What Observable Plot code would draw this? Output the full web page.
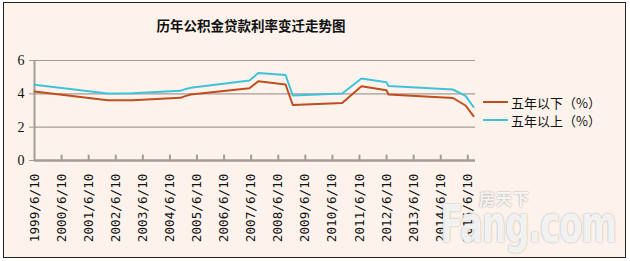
<!DOCTYPE html>
<html>
<head>
<meta charset="utf-8">
<script src="https://cdn.jsdelivr.net/npm/d3@7"></script>
<script src="https://cdn.jsdelivr.net/npm/@observablehq/plot@0.6"></script>
<style>
  html, body { margin: 0; padding: 0; background: #ffffff; }
  #wrap { position: relative; width: 630px; height: 261px; overflow: hidden; background: #ffffff; }
  #frame { position: absolute; left: 3px; top: 2px; width: 621px; height: 254px; border: 1px solid #222; background: #fdf3ec; }
  #chart { position: absolute; left: 0; top: 0; }
  .title { position: absolute; left: 0; width: 502px; top: 15px; text-align: center; font-family: "Noto Sans CJK SC", sans-serif; font-weight: bold; font-size: 13.5px; color: #111; }
  .leg { position: absolute; font-family: "Noto Sans CJK SC", sans-serif; font-size: 13px; color: #111; line-height: 15px; white-space: nowrap; }
  .sw { position: absolute; height: 2px; width: 25px; }
  .wm1 { position: absolute; left: 479px; top: 190px; font-family: "Noto Sans CJK SC", sans-serif; font-weight: bold; font-size: 16px; line-height: 17px; color: rgba(255,255,255,0.9); text-shadow: 0 0 2px rgba(110,110,110,0.7); letter-spacing: 1px; }
  .wm2 { position: absolute; left: 440px; top: 196px; font-family: "DejaVu Sans", sans-serif; font-weight: bold; font-size: 52px; line-height: 56px; color: rgba(255,255,255,0.9); text-shadow: 0 0 2px rgba(110,110,110,0.7); letter-spacing: -2px; transform: scaleX(0.66); transform-origin: left top; white-space: nowrap; }
</style>
</head>
<body>
<div id="wrap">
  <div id="frame"></div>
  <div id="chart"></div>
  <div class="title">历年公积金贷款利率变迁走势图</div>
</div>
<script>
// ---- data ----
const dates = [
  "1999-06-10", "2002-02-21", "2003-01-20", "2004-10-29", "2005-01-01", "2005-03-17",
  "2007-05-19", "2007-09-15", "2008-09-16", "2008-12-23", "2010-10-20", "2011-07-07",
  "2012-06-08", "2012-07-06", "2014-11-22", "2015-05-11", "2015-08-26"
];
const below5 = [4.14, 3.62, 3.62, 3.76, 3.86, 3.96, 4.34, 4.76, 4.56, 3.33, 3.45, 4.45, 4.22, 3.96, 3.75, 3.30, 2.66];
const above5 = [4.55, 4.02, 4.04, 4.18, 4.28, 4.36, 4.80, 5.25, 5.13, 3.90, 4.02, 4.92, 4.70, 4.47, 4.26, 3.88, 3.21];
const seriesNames = ["五年以下（%）", "五年以上（%）"];
const seriesColors = ["#c04d1c", "#3ec3da"];
const tickLabels = ["1999/6/10","2000/6/10","2001/6/10","2002/6/10","2003/6/10","2004/6/10","2005/6/10","2006/6/10",
  "2007/6/10","2008/6/10","2009/6/10","2010/6/10","2011/6/10","2012/6/10","2013/6/10","2014/6/10","2015/6/10"];
const yTicks = [0, 2, 4, 6];

const parse = s => new Date(s + "T00:00:00Z");
const rows = [];
dates.forEach((d, i) => {
  rows.push({date: parse(d), value: below5[i], series: seriesNames[0]});
  rows.push({date: parse(d), value: above5[i], series: seriesNames[1]});
});
const tickDates = tickLabels.map(t => { const [y, m, d] = t.split("/").map(Number); return new Date(Date.UTC(y, m - 1, d)); });
const fmt = d => `${d.getUTCFullYear()}/${d.getUTCMonth() + 1}/${d.getUTCDate()}`;

const chart = Plot.plot({
  width: 630,
  height: 261,
  marginLeft: 34,
  marginRight: 155,
  marginTop: 60,
  marginBottom: 101,
  style: {background: "transparent", overflow: "visible"},
  x: {type: "utc", domain: [tickDates[0], new Date(Date.UTC(2015, 8, 22))]},
  y: {domain: [0, 6]},
  color: {domain: seriesNames, range: seriesColors},
  marks: [
    Plot.ruleY([2, 4, 6], {stroke: "#a39c96", strokeWidth: 1.2}),
    Plot.ruleX([tickDates[0]], {stroke: "#a39c96", strokeWidth: 2}),
    Plot.ruleY([0], {stroke: "#a39c96", strokeWidth: 2.5}),
    Plot.ruleX(tickDates.slice(1), {y1: 0, y2: 0.32, stroke: "#a39c96", strokeWidth: 2}),
    Plot.axisY({ticks: yTicks, tickFormat: d => String(d), tickSize: 5, tickPadding: 5, stroke: "#a39c96", fontSize: 14, fontFamily: "Liberation Serif", color: "#111", label: null}),
    Plot.axisX({ticks: tickDates, tickFormat: fmt, tickSize: 0, tickPadding: 13, tickRotate: -90, fontSize: 12.7, fontFamily: "DejaVu Sans Mono", color: "#111", label: null}),
    Plot.line(rows, {x: "date", y: "value", stroke: "series", strokeWidth: 2, curve: "linear"})
  ]
});
document.getElementById("chart").appendChild(chart);

// legend (HTML, beside the plot)
const wrap = document.getElementById("wrap");
const legY = [95, 113];
seriesNames.forEach((name, i) => {
  const sw = document.createElement("div");
  sw.className = "sw";
  sw.style.left = "483px";
  sw.style.top = (legY[i] + 6) + "px";
  sw.style.background = seriesColors[i];
  wrap.appendChild(sw);
  const t = document.createElement("div");
  t.className = "leg";
  t.style.left = "511px";
  t.style.top = legY[i] + "px";
  t.textContent = name;
  wrap.appendChild(t);
});
// watermark
const w1 = document.createElement("div"); w1.className = "wm1"; w1.textContent = "房天下"; wrap.appendChild(w1);
const w2 = document.createElement("div"); w2.className = "wm2"; w2.textContent = "Fang.com"; wrap.appendChild(w2);
</script>
</body>
</html>
